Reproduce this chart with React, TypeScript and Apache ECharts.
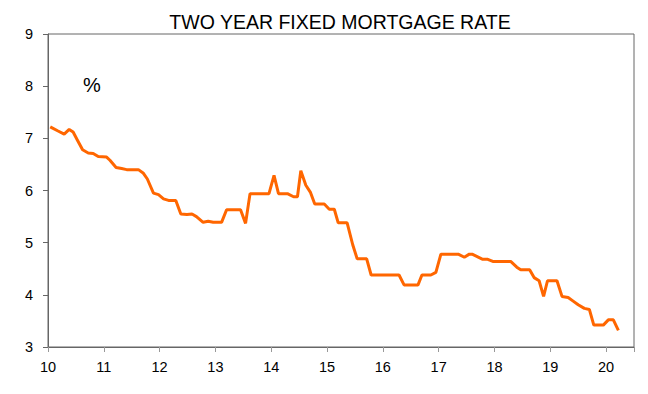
import React, { useEffect, useRef } from "react";
import * as echarts from "echarts";

const years: number[] = [
  10.04, 10.18, 10.29, 10.38, 10.45, 10.53, 10.62, 10.72, 10.81, 10.9,
  11.05, 11.11, 11.22, 11.32, 11.41, 11.62, 11.71, 11.78, 11.89, 11.98,
  12.07, 12.16, 12.29, 12.38, 12.49, 12.58, 12.66, 12.78, 12.87, 12.96,
  13.11, 13.2, 13.45, 13.54, 13.62, 13.96, 14.05, 14.13, 14.29, 14.4,
  14.47, 14.53, 14.62, 14.7, 14.78, 14.95, 15.04, 15.13, 15.2, 15.36,
  15.46, 15.54, 15.71, 15.79, 16.29, 16.38, 16.63, 16.7, 16.86, 16.95,
  17.04, 17.35, 17.46, 17.55, 17.6, 17.79, 17.88, 17.97, 18.29, 18.4,
  18.47, 18.63, 18.71, 18.8, 18.88, 18.95, 19.12, 19.21, 19.32, 19.41,
  19.5, 19.61, 19.7, 19.78, 19.95, 20.04, 20.13, 20.22,
];

const rates: number[] = [
  7.22, 7.14, 7.08, 7.17, 7.12, 6.96, 6.78, 6.72, 6.71, 6.65,
  6.64, 6.58, 6.44, 6.42, 6.4, 6.4, 6.33, 6.22, 5.95, 5.92,
  5.84, 5.81, 5.81, 5.55, 5.54, 5.55, 5.5, 5.39, 5.41, 5.39,
  5.39, 5.63, 5.63, 5.37, 5.94, 5.94, 6.29, 5.94, 5.94, 5.88,
  5.88, 6.38, 6.1, 5.97, 5.74, 5.74, 5.64, 5.64, 5.38, 5.38,
  4.96, 4.69, 4.69, 4.38, 4.38, 4.19, 4.19, 4.38, 4.38, 4.43,
  4.78, 4.78, 4.72, 4.78, 4.78, 4.68, 4.68, 4.64, 4.64, 4.53,
  4.48, 4.48, 4.33, 4.27, 3.97, 4.27, 4.27, 3.97, 3.95, 3.88,
  3.81, 3.74, 3.72, 3.42, 3.42, 3.52, 3.52, 3.32,
];

const xTicks: number[] = [10, 11, 12, 13, 14, 15, 16, 17, 18, 19, 20];

export default function App() {
  const ref = useRef<HTMLDivElement>(null);
  useEffect(() => {
    document.body.style.margin = "0";
    if (!ref.current) return;
    const chart = echarts.init(ref.current, null, { renderer: "svg" });
    const font = "'Liberation Sans', Arial, sans-serif";
    chart.setOption({
      animation: false,
      backgroundColor: "#ffffff",
      title: {
        text: "TWO YEAR FIXED MORTGAGE RATE",
        left: 335,
        textAlign: "center",
        top: 7,
        textStyle: { fontFamily: font, fontSize: 19.5, fontWeight: "normal", color: "#000" },
      },
      graphic: [
        {
          type: "text",
          left: 83,
          top: 75,
          style: { text: "%", fontFamily: font, fontSize: 20, fill: "#000" },
        },
      ],
      grid: {
        left: 48,
        right: 14,
        top: 34,
        bottom: 47,
        show: true,
        borderColor: "#666",
        borderWidth: 1,
        containLabel: false,
      },
      xAxis: {
        type: "value",
        min: 10,
        max: 20.5,
        interval: 1,
        axisLine: { show: true, lineStyle: { color: "#666" } },
        axisTick: { show: true, length: 5, inside: false, lineStyle: { color: "#999" } },
        splitLine: { show: false },
        axisLabel: {
          fontFamily: font,
          fontSize: 14.5,
          color: "#000",
          margin: 12,
          customValues: xTicks,
          formatter: (v: number) => (xTicks.includes(v) ? String(v) : ""),
        },
        axisPointer: { show: false },
      },
      yAxis: {
        type: "value",
        min: 3,
        max: 9,
        interval: 1,
        axisLine: { show: true, lineStyle: { color: "#666" } },
        axisTick: { show: true, length: 5, lineStyle: { color: "#666" } },
        splitLine: { show: false },
        axisLabel: { fontFamily: font, fontSize: 14.5, color: "#000", margin: 15 },
      },
      series: [
        {
          type: "line",
          data: years.map((y, i) => [y, rates[i]]),
          showSymbol: false,
          symbol: "none",
          lineStyle: { color: "#FF6600", width: 3 },
          itemStyle: { color: "#FF6600" },
        },
      ],
    });
    return () => chart.dispose();
  }, []);
  return <div ref={ref} style={{ width: 648, height: 394 }} />;
}
